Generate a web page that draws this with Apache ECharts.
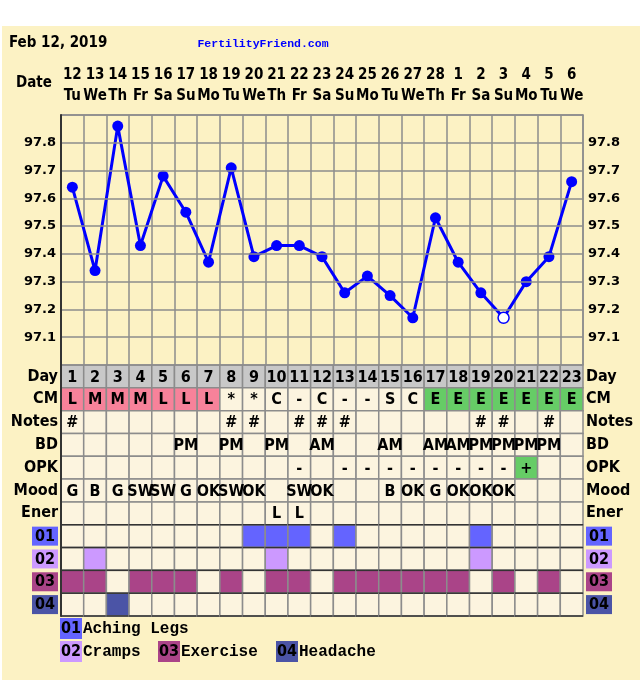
<!DOCTYPE html>
<html><head><meta charset="utf-8">
<script src="https://cdn.jsdelivr.net/npm/echarts@6/dist/echarts.min.js"></script>
<style>html,body{margin:0;padding:0;background:#fff}#c{width:640px;height:688px}</style>
</head><body><div id="c"></div>
<script>
// ---- data ----
const dates = ['12','13','14','15','16','17','18','19','20','21','22','23','24','25','26','27','28','1','2','3','4','5','6'];
const weekdays = ['Tu','We','Th','Fr','Sa','Su','Mo','Tu','We','Th','Fr','Sa','Su','Mo','Tu','We','Th','Fr','Sa','Su','Mo','Tu','We'];
const temps = [97.64,97.34,97.86,97.43,97.68,97.55,97.37,97.71,97.39,97.43,97.43,97.39,97.26,97.32,97.25,97.17,97.53,97.37,97.26,97.17,97.30,97.39,97.66];
const openPointDays = [20];
const cycleDays = ['1','2','3','4','5','6','7','8','9','10','11','12','13','14','15','16','17','18','19','20','21','22','23'];
const cm    = ['L','M','M','M','L','L','L','*','*','C','-','C','-','-','S','C','E','E','E','E','E','E','E'];
const notes = ['#','','','','','','','#','#','','#','#','#','','','','','','#','#','','#',''];
const bd    = ['','','','','','PM','','PM','','PM','','AM','','','AM','','AM','AM','PM','PM','PM','PM',''];
const opk   = ['','','','','','','','','','','-','','-','-','-','-','-','-','-','-','+','',''];
const mood  = ['G','B','G','SW','SW','G','OK','SW','OK','','SW','OK','','','B','OK','G','OK','OK','OK','','',''];
const ener  = ['','','','','','','','','','L','L','','','','','','','','','','','',''];
const rowLabels = ['Day','CM','Notes','BD','OPK','Mood','Ener','01','02','03','04'];
const symptomCodes = ['01','02','03','04'];
const symptomNames = ['Aching Legs','Cramps','Exercise','Headache'];
const symptomDays = [
  [9,10,11,13,19],
  [2,10,19],
  [1,2,4,5,6,8,10,11,13,14,15,16,17,18,20,22],
  [3]
];

// ---- styles ----
const BG = '#fcf2c4', CREAM = '#fcf4df', GREY = '#c8c8c8', PINK = '#f7829a', GREEN = '#66cc66';
const symptomColors = ['#6464ff','#cc99ff','#aa4488','#4b54a6'];
const NARROW = '"Liberation Sans Narrow","DejaVu Sans Condensed","Arial Narrow",sans-serif';
const VERD = '"DejaVu Sans",Verdana,sans-serif';
const MONO = '"Liberation Mono","DejaVu Sans Mono",monospace';

const textRows = [cycleDays, cm, notes, bd, opk, mood, ener];
const cells = [], texts = [];
for (let r = 0; r < rowLabels.length; r++) {
  for (let d = 0; d < 23; d++) {
    let fill = CREAM, t = '';
    if (r < 7) {
      t = textRows[r][d];
      if (r === 0) fill = GREY;
      if (r === 1 && (t === 'L' || t === 'M')) fill = PINK;
      if (r === 1 && t === 'E') fill = GREEN;
      if (r === 4 && t === '+') fill = GREEN;
    } else {
      const k = r - 7;
      if (symptomDays[k].indexOf(d + 1) >= 0) fill = symptomColors[k];
    }
    cells.push({value: [d, r], fill: fill, row: r});
    if (t) texts.push({value: [d, r], text: t});
  }
}

const tempData = temps.map((v, i) => openPointDays.indexOf(i + 1) >= 0
  ? {value: v, itemStyle: {color: '#ffffff', borderColor: '#0000ff', borderWidth: 1.5}}
  : v);

const rich = {};
symptomCodes.forEach((c, i) => {
  rich['s' + i] = {backgroundColor: symptomColors[i], padding: [2, 3, 1, 3], fontFamily: NARROW, fontWeight: 'bold', fontSize: 16, color: '#000'};
});
function rowLabelFmt(v) {
  const k = symptomCodes.indexOf(v);
  return k >= 0 ? '{s' + k + '|' + v + '}' : v;
}
function tempFmt(v) {
  const r = Math.round(v * 10) / 10;
  return (r > 97.05 && r < 97.85) ? r.toFixed(1) : '';
}

// legend graphics
const legendPos = [[60, 618], [60, 641], [158, 641], [276, 641]];
const graphics = [
  {type: 'rect', shape: {x: 2, y: 26, width: 638, height: 654}, style: {fill: BG}, z: -10},
  {type: 'text', x: 9, y: 43, style: {text: 'Feb 12, 2019', font: 'bold 15px ' + NARROW, fill: '#000', verticalAlign: 'middle'}},
  {type: 'text', x: 263, y: 44, style: {text: 'FertilityFriend.com', font: 'bold 11.5px ' + MONO, fill: '#0000ff', align: 'center', verticalAlign: 'middle'}},
  {type: 'text', x: 34, y: 83, style: {text: 'Date', font: 'bold 15px ' + NARROW, fill: '#000', align: 'center', verticalAlign: 'middle'}}
];
symptomCodes.forEach((c, i) => {
  const p = legendPos[i];
  graphics.push({type: 'rect', shape: {x: p[0], y: p[1], width: 22, height: 21}, style: {fill: symptomColors[i]}});
  graphics.push({type: 'text', x: p[0] + 11, y: p[1] + 11, style: {text: c, font: 'bold 16px ' + NARROW, fill: '#000', align: 'center', verticalAlign: 'middle'}});
  graphics.push({type: 'text', x: p[0] + 23, y: p[1] + 11, style: {text: symptomNames[i], font: 'bold 16px ' + MONO, fill: '#000', verticalAlign: 'middle'}});
});

const chart = echarts.init(document.getElementById('c'), null, {renderer: 'canvas'});
chart.setOption({
  animation: false,
  backgroundColor: '#ffffff',
  graphic: graphics,
  grid: [
    {left: 61, top: 115, width: 522, height: 250},
    {left: 61, top: 365, width: 522, height: 251}
  ],
  xAxis: [
    {type: 'category', gridIndex: 0, position: 'top', data: dates, boundaryGap: true,
     axisLine: {show: true, lineStyle: {color: '#8c8c8c', width: 1.5}},
     axisTick: {show: false},
     splitLine: {show: true, interval: 0, lineStyle: {color: '#8c8c8c', width: 1.5}},
     axisLabel: {interval: 0, margin: 8, color: '#000',
       formatter: (v, i) => '{d|' + dates[i] + '}\n{w|' + weekdays[i] + '}',
       rich: {d: {fontFamily: NARROW, fontWeight: 'bold', fontSize: 15, lineHeight: 21, color: '#000'},
              w: {fontFamily: NARROW, fontWeight: 'bold', fontSize: 15, lineHeight: 21, color: '#000'}}}},
    {type: 'category', gridIndex: 1, data: cycleDays, boundaryGap: true, show: false}
  ],
  yAxis: [
    {type: 'value', gridIndex: 0, min: 97.0, max: 97.9, interval: 0.1, z: 5,
     axisLine: {show: true, lineStyle: {color: '#333', width: 2}},
     axisTick: {show: false},
     splitLine: {show: true, lineStyle: {color: '#8c8c8c', width: 1.5}},
     axisLabel: {margin: 5, formatter: tempFmt, fontFamily: VERD, fontWeight: 'bold', fontSize: 13, color: '#000'}},
    {type: 'value', gridIndex: 0, position: 'right', min: 97.0, max: 97.9, interval: 0.1,
     axisLine: {show: true, lineStyle: {color: '#8c8c8c', width: 1.5}},
     axisTick: {show: false}, splitLine: {show: false},
     axisLabel: {margin: 5, formatter: tempFmt, fontFamily: VERD, fontWeight: 'bold', fontSize: 13, color: '#000'}},
    {type: 'category', gridIndex: 1, data: rowLabels, inverse: true, z: 5,
     axisLine: {show: true, lineStyle: {color: '#333', width: 2}},
     axisTick: {show: false}, splitLine: {show: false},
     axisLabel: {interval: 0, margin: 3, formatter: rowLabelFmt, rich: rich, fontFamily: NARROW, fontWeight: 'bold', fontSize: 16, color: '#000'}},
    {type: 'category', gridIndex: 1, data: rowLabels, inverse: true, position: 'right',
     axisLine: {show: false}, axisTick: {show: false}, splitLine: {show: false},
     axisLabel: {interval: 0, margin: 3, formatter: rowLabelFmt, rich: rich, fontFamily: NARROW, fontWeight: 'bold', fontSize: 16, color: '#000'}}
  ],
  series: [
    {type: 'custom', xAxisIndex: 1, yAxisIndex: 2, data: cells, clip: false, silent: true, z: 2,
     renderItem: (params, api) => {
       const cell = cells[params.dataIndex];
       const c = api.coord([api.value(0), api.value(1)]);
       const s = api.size([1, 1]);
       const x0 = c[0] - s[0] / 2, y0 = c[1] - s[1] / 2;
       const ch = [{type: 'rect', shape: {x: x0, y: y0, width: s[0], height: s[1]}, style: {fill: cell.fill, stroke: '#8c8c8c', lineWidth: 1.5}}];
       if (cell.row >= 7) ch.push({type: 'line', shape: {x1: x0, y1: y0, x2: x0 + s[0], y2: y0}, style: {stroke: '#333', lineWidth: 1.5}});
       if (cell.row === 10) ch.push({type: 'line', shape: {x1: x0, y1: y0 + s[1], x2: x0 + s[0], y2: y0 + s[1]}, style: {stroke: '#333', lineWidth: 1.5}});
       return {type: 'group', children: ch};
     }},
    {type: 'custom', xAxisIndex: 1, yAxisIndex: 2, data: texts, clip: false, silent: true, z: 3,
     renderItem: (params, api) => {
       const c = api.coord([api.value(0), api.value(1)]);
       return {type: 'text', x: c[0], y: c[1] + 1, style: {text: texts[params.dataIndex].text, font: 'bold 16px ' + NARROW, fill: '#000', align: 'center', verticalAlign: 'middle'}};
     }},
    {type: 'line', xAxisIndex: 0, yAxisIndex: 0, data: tempData, z: 4,
     symbol: 'circle', symbolSize: 11, showAllSymbol: true,
     lineStyle: {color: '#0000ff', width: 3},
     itemStyle: {color: '#0000ff'}}
  ]
});
</script></body></html>
